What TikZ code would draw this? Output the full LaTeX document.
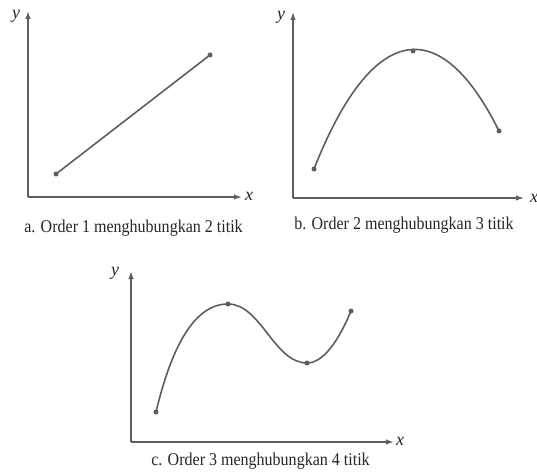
\documentclass[tikz,border=0pt]{standalone}
\usepackage{fontspec}
\usetikzlibrary{arrows.meta}
\newfontfamily\capfont[FakeStretch=0.89]{Liberation Serif}
\newfontfamily\labfont{Liberation Serif}
\definecolor{lineg}{HTML}{5e5e5e}
\definecolor{textg}{HTML}{262626}
\tikzset{
  axisline/.style={draw=lineg, line width=1.5pt, -{Latex[length=8pt,width=5.5pt]}},
  curveline/.style={draw=lineg, line width=1.6pt},
  dotpt/.style={circle, fill=lineg, inner sep=0pt, minimum size=5pt},
  caption/.style={anchor=base, text=textg, font=\capfont\fontsize{18}{21}\selectfont, inner sep=0pt},
  axislabel/.style={text=textg, font=\labfont\itshape\fontsize{18}{20}\selectfont, inner sep=0pt}
}
\begin{document}
\begin{tikzpicture}[x=1pt,y=-1pt]
\useasboundingbox (0,0) rectangle (537,473);
% ---------- panel a ----------
\coordinate (aO) at (28,197);
\coordinate (aY) at (28,11);
\coordinate (aX) at (242,197);
\draw[axisline] (aO) -- (aY);
\draw[axisline] (aO) -- (aX);
\node[axislabel] (aylab) at (16,16) {y};
\node[axislabel] (axlab) at (249,196) {x};
\node[dotpt] (a1) at (56,174) {};
\node[dotpt] (a2) at (210,55) {};
\draw[curveline] (a1.center) -- (a2.center);
\node[caption] (acap) at (133.5,232) {a. Order 1 menghubungkan 2 titik};
% ---------- panel b ----------
\coordinate (bO) at (293,198);
\coordinate (bY) at (293,12);
\coordinate (bX) at (524,198);
\draw[axisline] (bO) -- (bY);
\draw[axisline] (bO) -- (bX);
\node[axislabel] (bylab) at (281,17) {y};
\node[axislabel] (bxlab) at (534,198) {x};
\node[dotpt] (b1) at (314,169) {};
\node[dotpt] (b2) at (413,51) {};
\node[dotpt] (b3) at (499,131) {};
\draw[curveline] (b1.center) .. controls (372,22) and (440,12) .. (b3.center);
\node[caption] (bcap) at (404,229) {b. Order 2 menghubungkan 3 titik};
% ---------- panel c ----------
\coordinate (cO) at (131,442);
\coordinate (cY) at (131,271);
\coordinate (cX) at (394,442);
\draw[axisline] (cO) -- (cY);
\draw[axisline] (cO) -- (cX);
\node[axislabel] (cylab) at (115,273) {y};
\node[axislabel] (cxlab) at (400,441) {x};
\node[dotpt] (c1) at (156,412) {};
\node[dotpt] (c2) at (228,304) {};
\node[dotpt] (c3) at (307,363) {};
\node[dotpt] (c4) at (351,311) {};
\draw[curveline] (c1.center) .. controls (172,345) and (195,304) .. (c2.center)
  .. controls (261,304) and (274,363) .. (c3.center)
  .. controls (327,363) and (343,330) .. (c4.center);
\node[caption] (ccap) at (260.5,465) {c. Order 3 menghubungkan 4 titik};
\end{tikzpicture}
\end{document}
